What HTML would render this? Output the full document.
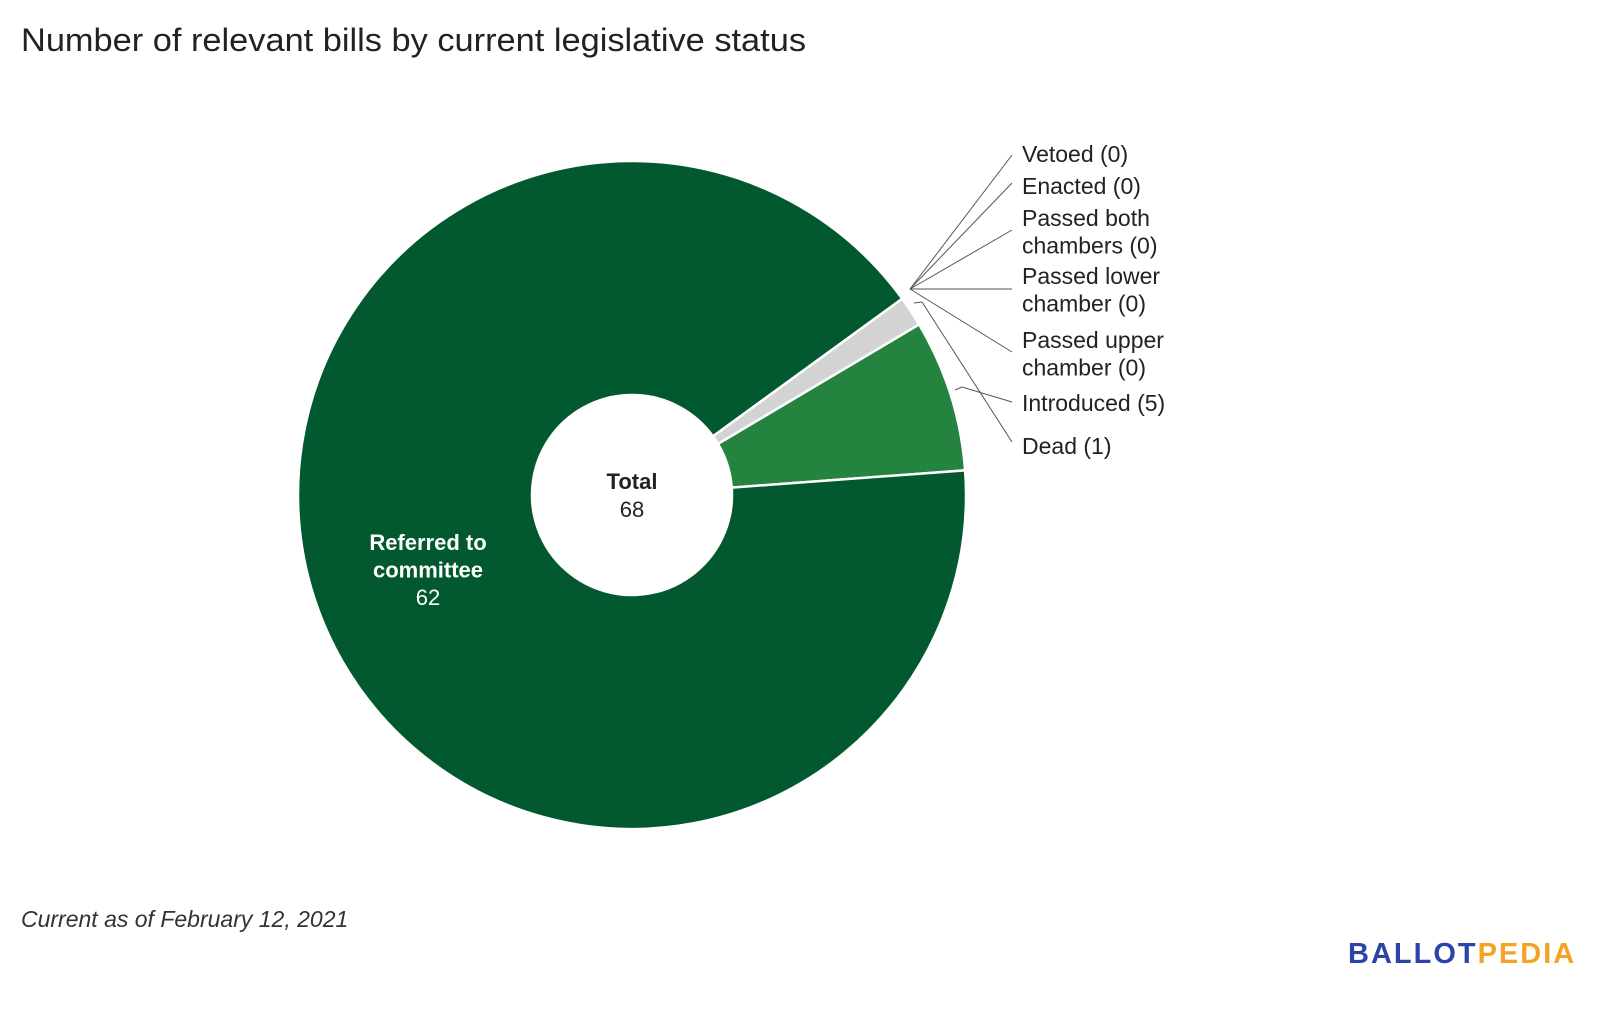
<!DOCTYPE html>
<html><head><meta charset="utf-8"><style>
html,body{margin:0;padding:0;background:#fff;}
body{width:1600px;height:1015px;overflow:hidden;font-family:"Liberation Sans",sans-serif;}
</style></head><body>
<svg id="chart" width="1600" height="1015" xmlns="http://www.w3.org/2000/svg">
<text x="21" y="51" font-size="32" fill="#222" textLength="785" lengthAdjust="spacingAndGlyphs">Number of relevant bills by current legislative status</text>
<g id="slices"></g>
<g id="leaders"></g>
<g id="labels"></g>
<text x="632" y="489" font-size="22" font-weight="bold" fill="#222" text-anchor="middle">Total</text>
<text id="totalVal" x="632" y="517" font-size="22" fill="#222" text-anchor="middle"></text>
<text x="21" y="927" font-size="23" font-style="italic" fill="#333">Current as of February 12, 2021</text>
<text x="1348" y="963" font-size="29" font-weight="bold" letter-spacing="2"><tspan fill="#2c44a8">BALLOT</tspan><tspan fill="#f3a328">PEDIA</tspan></text>
</svg>
<script>
const categories=["Vetoed","Enacted","Passed both chambers","Passed lower chamber","Passed upper chamber","Introduced","Dead","Referred to committee"];
const values=[0,0,0,0,0,5,1,62];
const colors=["#999","#999","#999","#999","#999","#23833f","#d3d3d3","#02582f"];
const sliceOrder=[6,5,7];
const cx=632,cy=495,R=334,r=100,startDeg=54;
const NS="http://www.w3.org/2000/svg";
const total=values.reduce((a,b)=>a+b,0);
document.getElementById('totalVal').textContent=total;
function pt(deg,rad){const a=(deg-90)*Math.PI/180;return [cx+rad*Math.cos(a),cy+rad*Math.sin(a)];}
let ang=startDeg;
const sg=document.getElementById('slices');
sliceOrder.forEach(i=>{
  const sweep=values[i]/total*360;
  const a0=ang,a1=ang+sweep;
  const p0=pt(a0,R),p1=pt(a1,R),q1=pt(a1,r),q0=pt(a0,r);
  const big=sweep>180?1:0;
  const p=document.createElementNS(NS,'path');
  p.setAttribute('d',`M${p0[0]},${p0[1]}A${R},${R} 0 ${big} 1 ${p1[0]},${p1[1]}L${q1[0]},${q1[1]}A${r},${r} 0 ${big} 0 ${q0[0]},${q0[1]}Z`);
  p.setAttribute('fill',colors[i]);p.setAttribute('stroke','#fff');p.setAttribute('stroke-width','2.5');
  
  
  sg.appendChild(p);
  if(i===7){
    const lines=["Referred to","committee",String(values[i])];
    lines.forEach((s,k)=>{const t=document.createElementNS(NS,'text');
      t.setAttribute('x',428);t.setAttribute('y',550+k*27.5);
      t.setAttribute('font-size','22');t.setAttribute('fill','#fff');t.setAttribute('text-anchor','middle');
      if(k<2)t.setAttribute('font-weight','bold');
      t.textContent=s;
      
      
      sg.appendChild(t);});
  }
  ang=a1;
});
const labelLines=[["Vetoed (0)"],["Enacted (0)"],["Passed both","chambers (0)"],["Passed lower","chamber (0)"],["Passed upper","chamber (0)"],["Introduced (5)"],["Dead (1)"]];
const labelY=[162,194,226,284,348,411,454];
const lineEndY=[155,183,230,289,352,402,442];
const lg=document.getElementById('labels'),ll=document.getElementById('leaders');
labelLines.forEach((ls,i)=>{
  ls.forEach((s,k)=>{const t=document.createElementNS(NS,'text');
    t.setAttribute('x',1022);t.setAttribute('y',labelY[i]+k*27.5);
    t.setAttribute('font-size','23');t.setAttribute('fill','#222');
    t.textContent=s;
    
    
    lg.appendChild(t);});
  let d;
  if(i<5) d=`M910,289L1012,${lineEndY[i]}`;
  else if(i===5) d=`M955,390L962,387L1012,${lineEndY[i]}`;
  else d=`M914,303L922,302L1012,${lineEndY[i]}`;
  const p=document.createElementNS(NS,'path');
  p.setAttribute('d',d);p.setAttribute('fill','none');p.setAttribute('stroke','#555');p.setAttribute('stroke-width','1');
  
  
  ll.appendChild(p);
});
</script>
</body></html>
